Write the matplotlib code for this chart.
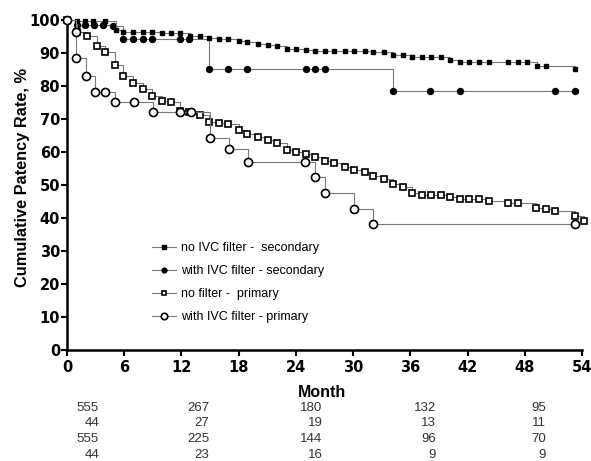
import matplotlib
matplotlib.use("Agg")
import matplotlib.pyplot as plt

# =============================
# Data
# =============================

nofilt_sec_t = [0, 1.0, 1.9, 2.7, 4.0, 5.1, 5.9, 6.9, 8.0, 8.9, 10.0, 10.9, 11.9, 12.9, 13.9,
                14.9, 15.9, 16.9, 18.0, 18.9, 20.0, 21.1, 22.0, 23.1, 24.0, 25.1, 26.0, 27.1,
                28.0, 29.1, 30.1, 31.2, 32.1, 33.2, 34.2, 35.2, 36.2, 37.2, 38.2, 39.2, 40.2,
                41.2, 42.2, 43.2, 44.2, 46.2, 47.3, 48.2, 49.3, 50.2, 53.3]
nofilt_sec_v = [100, 99.7, 99.7, 99.7, 99.7, 97.0, 96.5, 96.3, 96.3, 96.3, 96.0, 96.0, 96.0, 95.3, 95.3,
                94.5, 94.2, 94.2, 93.5, 93.2, 92.7, 92.4, 92.0, 91.3, 91.3, 91.0, 90.6, 90.6,
                90.6, 90.6, 90.6, 90.6, 90.2, 90.2, 89.4, 89.4, 88.8, 88.8, 88.8, 88.8, 87.9,
                87.2, 87.2, 87.2, 87.2, 87.2, 87.2, 87.2, 86.0, 86.0, 85.2]

with_sec_t = [0, 1.0, 1.9, 2.8, 3.8, 4.8, 5.9, 6.9, 8.0, 8.9, 11.9, 12.8, 14.9, 16.9, 18.9,
              25.1, 26.0, 27.1, 34.2, 38.1, 41.2, 51.2, 53.3]
with_sec_v = [100, 98.5, 98.5, 98.5, 98.5, 98.2, 94.2, 94.2, 94.2, 94.2, 94.2, 94.2, 85.2, 85.2, 85.2,
              85.2, 85.2, 85.2, 78.5, 78.5, 78.5, 78.5, 78.5]

nofilt_prim_t = [0, 1.0, 2.1, 3.1, 4.0, 5.0, 5.9, 6.9, 8.0, 8.9, 10.0, 10.9, 11.9, 12.8, 13.9,
                 14.9, 15.9, 16.9, 18.0, 18.9, 20.0, 21.1, 22.0, 23.1, 24.0, 25.1, 26.0, 27.1,
                 28.0, 29.1, 30.1, 31.2, 32.1, 33.2, 34.2, 35.2, 36.2, 37.2, 38.2, 39.2, 40.2,
                 41.2, 42.2, 43.2, 44.2, 46.2, 47.3, 49.2, 50.2, 51.2, 53.3, 54.2]
nofilt_prim_v = [100, 96.4, 95.2, 92.1, 90.3, 86.4, 83.0, 81.0, 79.0, 77.0, 75.5, 75.0, 72.4, 72.1, 71.2,
                 69.1, 68.8, 68.5, 66.7, 65.5, 64.5, 63.6, 62.7, 60.6, 60.0, 59.4, 58.5, 57.3,
                 56.7, 55.5, 54.5, 53.9, 52.7, 51.8, 50.3, 49.4, 47.6, 47.0, 47.0, 47.0, 46.4,
                 45.8, 45.8, 45.8, 45.2, 44.5, 44.5, 43.0, 42.7, 42.1, 40.6, 39.1]

with_prim_t = [0, 0.9, 0.95, 2.0, 2.9, 4.0, 5.0, 7.0, 9.0, 11.9, 13.0, 15.0, 17.0, 19.0,
               25.0, 26.0, 27.0, 30.1, 32.1, 53.3]
with_prim_v = [100, 96.4, 88.5, 83.0, 78.1, 78.1, 75.2, 75.2, 72.1, 72.1, 72.1, 64.3, 60.8, 56.9,
               56.9, 52.5, 47.6, 42.7, 38.2, 38.2]

labels = ["no IVC filter -  secondary", "with IVC filter - secondary",
          "no filter -  primary", "with IVC filter - primary"]

# number at risk
risk_months = [3.35, 14.9, 26.8, 38.7, 50.2]
risk_rows = [[555, 267, 180, 132, 95],
             [44, 27, 19, 13, 11],
             [555, 225, 144, 96, 70],
             [44, 23, 16, 9, 9]]

# =============================
# Figure
# =============================

fig = plt.figure(figsize=(5.91, 4.61), dpi=100)
ax = fig.add_axes([67 / 591, 1 - 350 / 461, 515 / 591, 330 / 461])

line_kw = dict(drawstyle="steps-post", color="#7a7a7a", lw=0.8, clip_on=False)

h1, = ax.plot(nofilt_sec_t, nofilt_sec_v, marker="s", ms=3.3, mfc="black", mec="black",
              label=labels[0], zorder=4, **line_kw)
h2, = ax.plot(with_sec_t, with_sec_v, marker="o", ms=4.3, mfc="black", mec="black",
              label=labels[1], zorder=3, **line_kw)
h3, = ax.plot(nofilt_prim_t, nofilt_prim_v, marker="s", ms=4.3, mfc="white", mec="black",
              mew=1.2, label=labels[2], zorder=3, **line_kw)
h4, = ax.plot(with_prim_t, with_prim_v, marker="o", ms=5.8, mfc="white", mec="black",
              mew=1.2, label=labels[3], zorder=4, **line_kw)

ax.set_xlim(0, 54)
ax.set_ylim(0, 100)
ax.set_xticks(range(0, 55, 6))
ax.set_yticks(range(0, 101, 10))

for s in ["top", "right"]:
    ax.spines[s].set_visible(False)
for s in ["left", "bottom"]:
    ax.spines[s].set_linewidth(1.8)

ax.tick_params(axis="both", direction="out", length=4, width=1.5, labelsize=10.5)
ax.tick_params(axis="x", pad=3.5)
ax.tick_params(axis="y", pad=1)
for lab in ax.get_xticklabels() + ax.get_yticklabels():
    lab.set_fontweight("bold")

ax.set_ylabel("Cumulative Patency Rate, %", fontsize=11.8, fontweight="bold",
              family="Liberation Sans")
ax.yaxis.set_label_coords(-0.072, 0.524)

ax.text(26.7, -0.13, "Month", transform=ax.get_xaxis_transform(), ha="center", va="center",
        fontsize=11.5, fontweight="bold", family="Liberation Sans")

row_y = [-0.176, -0.221, -0.270, -0.318]
for yy, row in zip(row_y, risk_rows):
    for xm, n in zip(risk_months, row):
        ax.text(xm, yy, str(n), transform=ax.get_xaxis_transform(), ha="right", va="center",
                fontsize=9.5, family="Liberation Sans", color="#333333")

leg = ax.legend(handles=[h1, h2, h3, h4], loc="upper left", bbox_to_anchor=(0.165, 0.326),
                frameon=False, borderaxespad=0, borderpad=0, handlelength=1.9,
                handletextpad=0.4, labelspacing=0.88, markerscale=0.8,
                prop={"family": "Liberation Sans", "size": 9})

fig.savefig("out.png", dpi=100)
